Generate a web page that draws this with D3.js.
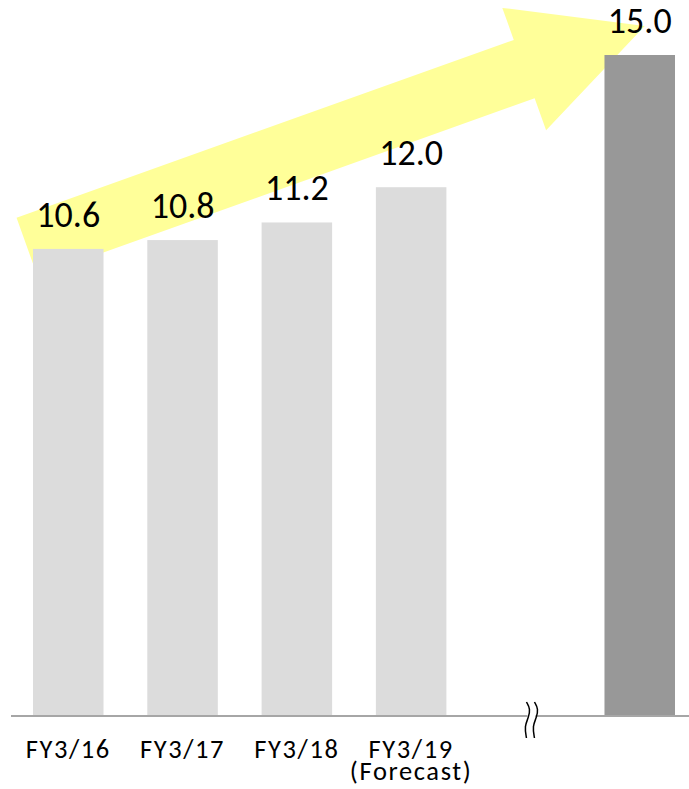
<!DOCTYPE html>
<html>
<head>
<meta charset="utf-8">
<script src="https://cdn.jsdelivr.net/npm/d3@7"></script>
<style>
  body { margin: 0; background: #fff; }
  text { font-family: Carlito, Calibri, "Open Sans", sans-serif; fill: #000; }
</style>
</head>
<body>
<div id="chart"></div>
<script>
// data
var categories = ["FY3/16", "FY3/17", "FY3/18", "FY3/19", "", "target"];
var values = [10.6, 10.8, 11.2, 12.0, null, 15.0];
var valueLabels = ["10.6", "10.8", "11.2", "12.0", "", "15.0"];
var catLabels = [["FY3/16"], ["FY3/17"], ["FY3/18"], ["FY3/19", "(Forecast)"], [], []];
var barColors = ["#dcdcdc", "#dcdcdc", "#dcdcdc", "#dcdcdc", null, "#989898"];

var w = 689, h = 789;

var svg = d3.select("#chart").append("svg")
    .attr("width", w)
    .attr("height", h);

var x = d3.scaleBand()
    .domain(categories)
    .range([33, 675])
    .paddingInner(0.383)
    .paddingOuter(0);

var y = d3.scaleLinear()
    .domain([0, 15])
    .range([716, 55]);

var bw = x.bandwidth();

// yellow arrow, laid out from the first and last bars
var start = [x(categories[0]) - 6, y(values[0]) - 2];
var tip = [x(categories[5]) + bw / 2 + 5, y(values[5]) - 29];
var dx = tip[0] - start[0], dy = tip[1] - start[1];
var len = Math.sqrt(dx * dx + dy * dy);
var u = [dx / len, dy / len];
var n = [-u[1], u[0]];
var shaftHalf = 31, headHalf = 65, headLen = 128;
function pt(along, side) {
    return [start[0] + u[0] * along + n[0] * side, start[1] + u[1] * along + n[1] * side];
}
var arrowPts = [
    pt(0, -shaftHalf),
    pt(len - headLen, -shaftHalf),
    pt(len - headLen, -headHalf),
    pt(len, 0),
    pt(len - headLen, headHalf),
    pt(len - headLen, shaftHalf),
    pt(0, shaftHalf)
];
svg.append("path")
    .attr("d", "M" + arrowPts.join("L") + "Z")
    .attr("fill", "#ffff99");

// bars
var data = categories.map(function (c, i) {
    return { cat: c, value: values[i], label: valueLabels[i], color: barColors[i] };
}).filter(function (d) { return d.value != null; });

svg.selectAll("rect.bar")
    .data(data)
    .enter()
    .append("rect")
    .attr("class", "bar")
    .attr("x", function (d) { return x(d.cat); })
    .attr("y", function (d) { return y(d.value); })
    .attr("width", bw)
    .attr("height", function (d) { return y(0) - y(d.value); })
    .attr("fill", function (d) { return d.color; });

// value labels
svg.selectAll("text.val")
    .data(data)
    .enter()
    .append("text")
    .attr("class", "val")
    .attr("x", function (d) { return x(d.cat) + bw / 2; })
    .attr("y", function (d) { return y(d.value) - 22; })
    .attr("text-anchor", "middle")
    .attr("font-size", "36px")
    .text(function (d) { return d.label; });

// baseline
svg.append("line")
    .attr("x1", 11)
    .attr("x2", w)
    .attr("y1", y(0))
    .attr("y2", y(0))
    .attr("stroke", "#a6a6a6")
    .attr("stroke-width", 2);

// category labels
categories.forEach(function (c, i) {
    var t = svg.append("text")
        .attr("x", x(c) + bw / 2)
        .attr("y", 758)
        .attr("text-anchor", "middle")
        .attr("font-size", "26.5px")
        .attr("letter-spacing", "1.6px");
    catLabels[i].forEach(function (line, j) {
        t.append("tspan")
            .attr("x", x(c) + bw / 2)
            .attr("dy", j === 0 ? 0 : 22)
            .text(line);
    });
});

// axis break mark in the empty slot
var bx = x(categories[4]) + bw / 2 + 6;
var by = y(0);
svg.append("rect")
    .attr("x", bx - 4)
    .attr("y", by - 3)
    .attr("width", 8)
    .attr("height", 6)
    .attr("fill", "#fff");
var wave = d3.line().curve(d3.curveBasis);
[-4, 4].forEach(function (off) {
    var cx = bx + off;
    svg.append("path")
        .attr("d", wave([
            [cx - 1, by - 14],
            [cx + 3, by - 7],
            [cx + 1, by + 2],
            [cx - 3, by + 10],
            [cx - 1, by + 22]
        ]))
        .attr("fill", "none")
        .attr("stroke", "#000")
        .attr("stroke-width", 1.5);
});
</script>
</body>
</html>
